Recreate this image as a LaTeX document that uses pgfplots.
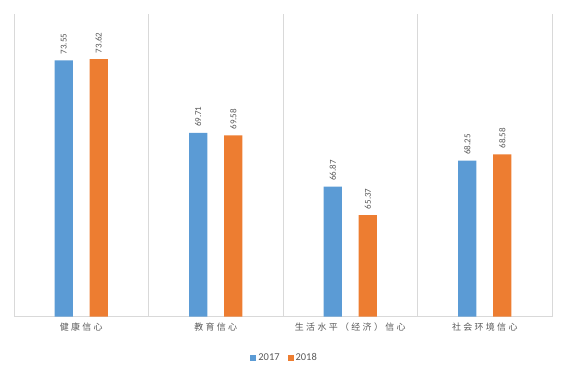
\documentclass[border=0pt]{standalone}
\usepackage{fontspec}
\setmainfont{Carlito}
\newfontfamily\cjk{Noto Sans CJK SC}[LetterSpace=26]
\usepackage{pgfplots}
\pgfplotsset{compat=1.18}
\definecolor{cA}{HTML}{5B9BD5}
\definecolor{cB}{HTML}{ED7D31}
\definecolor{txt}{HTML}{595959}
\definecolor{grd}{HTML}{D9D9D9}
\begin{document}
\begin{tikzpicture}[x=1bp,y=1bp]
\path[use as bounding box] (0,0) rectangle (567,378);
\begin{axis}[
  at={(14bp,61.3bp)}, anchor=south west,
  scale only axis, width=538bp, height=302.7bp,
  xmin=-0.5, xmax=3.5, ymin=60, ymax=76,
  ybar=16.7bp, bar width=18.3bp,
  axis x line=bottom, axis y line=none,
  x axis line style={-, draw=grd, line width=0.8pt},
  xtick={0,1,2,3},
  xticklabels={健康信心,教育信心,生活水平（经济）信心,社会环境信心},
  xticklabel style={font=\cjk\fontsize{9}{10}\selectfont, text=txt, yshift=-3bp},
  major tick length=0pt, minor tick length=0pt,
  minor xtick={-0.5,0.5,1.5,2.5,3.5},
  xminorgrids, minor grid style={draw=grd, line width=0.8pt},
  ytick=\empty,
  point meta=explicit symbolic,
  nodes near coords,
  every node near coord/.append style={rotate=90, anchor=west, font=\fontsize{9}{10}\selectfont, text=txt, xshift=2.5bp},
  legend columns=2,
  legend style={at={(0.503,-0.135)}, anchor=center, draw=none, fill=none,
    font=\fontsize{10.5}{12}\selectfont, text=txt,
    /tikz/every even column/.append style={column sep=6bp},
    inner sep=0pt},
  legend image code/.code={\fill[#1] (0bp,-3bp) rectangle (6bp,3bp);},
  clip=false,
]
\addplot[fill=cA, draw=none] coordinates {(0,73.55) [73.55] (1,69.71) [69.71] (2,66.87) [66.87] (3,68.25) [68.25]};
\addplot[fill=cB, draw=none] coordinates {(0,73.62) [73.62] (1,69.58) [69.58] (2,65.37) [65.37] (3,68.58) [68.58]};
\legend{2017,2018}
\end{axis}
\end{tikzpicture}
\end{document}
